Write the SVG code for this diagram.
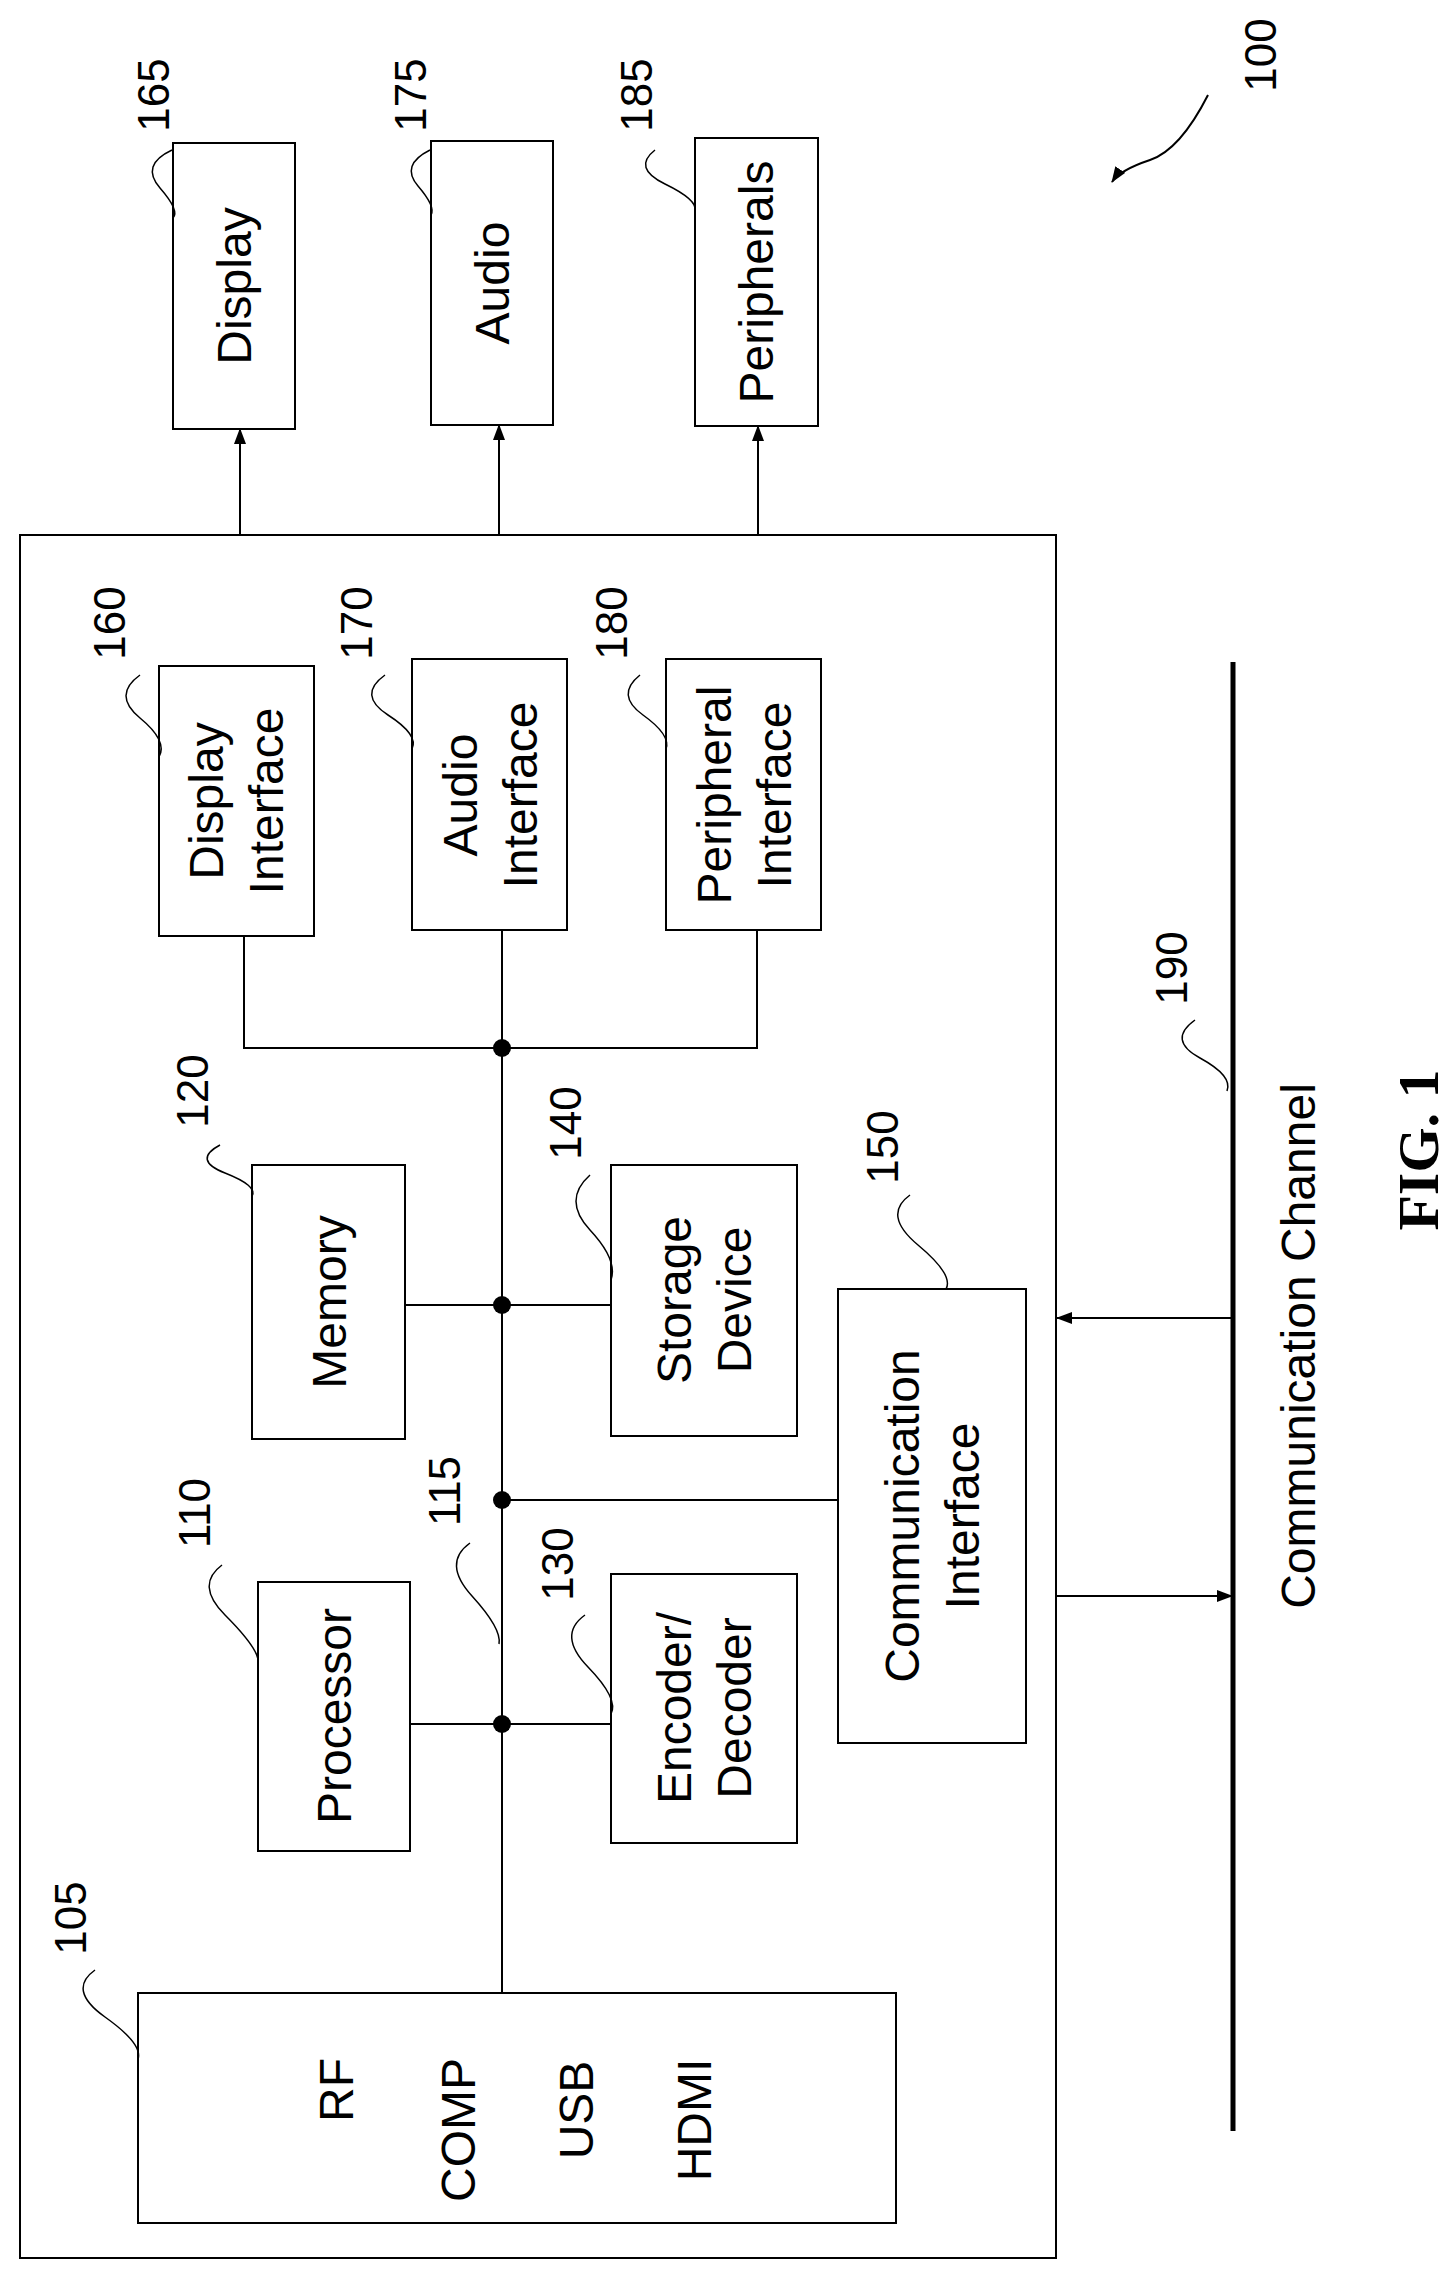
<svg xmlns="http://www.w3.org/2000/svg" width="1455" height="2272" viewBox="0 0 1455 2272">
<style>
.b{fill:none;stroke:#000;stroke-width:2}
.w{fill:#fff;stroke:#000;stroke-width:2}
.l{fill:none;stroke:#000;stroke-width:1.5}
text{font-family:"Liberation Sans",Arial,sans-serif;font-size:48px;text-anchor:middle;dominant-baseline:central}
.n{font-size:44px}
</style>
<defs><marker id="a" markerWidth="16" markerHeight="12" refX="15" refY="6" orient="auto" markerUnits="userSpaceOnUse"><path d="M0,0 L16,6 L0,12 z"/></marker></defs>
<g id="outer"><rect class="b" x="20" y="535" width="1036" height="1723"/></g>
<g id="n165"><rect class="w" x="173" y="143" width="122" height="286"/><text transform="rotate(-90 234 286)" x="234" y="286">Display</text></g>
<g id="n175"><rect class="w" x="431" y="141" width="122" height="284"/><text transform="rotate(-90 492 283)" x="492" y="283">Audio</text></g>
<g id="n185"><rect class="w" x="695" y="138" width="123" height="288"/><text transform="rotate(-90 756 282)" x="756" y="282">Peripherals</text></g>
<g id="n160"><rect class="w" x="159" y="666" width="155" height="270"/><text transform="rotate(-90 236 801)" x="236" y="801"><tspan x="236" dy="-0.63em">Display</tspan><tspan x="236" dy="1.26em">Interface</tspan></text></g>
<g id="n170"><rect class="w" x="412" y="659" width="155" height="271"/><text transform="rotate(-90 490 795)" x="490" y="795"><tspan x="490" dy="-0.63em">Audio</tspan><tspan x="490" dy="1.26em">Interface</tspan></text></g>
<g id="n180"><rect class="w" x="666" y="659" width="155" height="271"/><text transform="rotate(-90 744 795)" x="744" y="795"><tspan x="744" dy="-0.63em">Peripheral</tspan><tspan x="744" dy="1.26em">Interface</tspan></text></g>
<g id="n120"><rect class="w" x="252" y="1165" width="153" height="274"/><text transform="rotate(-90 329 1302)" x="329" y="1302">Memory</text></g>
<g id="n140"><rect class="w" x="611" y="1165" width="186" height="271"/><text transform="rotate(-90 704 1300)" x="704" y="1300"><tspan x="704" dy="-0.63em">Storage</tspan><tspan x="704" dy="1.26em">Device</tspan></text></g>
<g id="n150"><rect class="w" x="838" y="1289" width="188" height="454"/><text transform="rotate(-90 932 1516)" x="932" y="1516"><tspan x="932" dy="-0.63em">Communication</tspan><tspan x="932" dy="1.26em">Interface</tspan></text></g>
<g id="n110"><rect class="w" x="258" y="1582" width="152" height="269"/><text transform="rotate(-90 334 1716)" x="334" y="1716">Processor</text></g>
<g id="n130"><rect class="w" x="611" y="1574" width="186" height="269"/><text transform="rotate(-90 704 1708)" x="704" y="1708"><tspan x="704" dy="-0.63em">Encoder/</tspan><tspan x="704" dy="1.26em">Decoder</tspan></text></g>
<g id="n105"><rect class="w" x="138" y="1993" width="758" height="230"/>
<text transform="rotate(-90 336 2090)" x="336" y="2090">RF</text>
<text transform="rotate(-90 458 2130)" x="458" y="2130">COMP</text>
<text transform="rotate(-90 576 2110)" x="576" y="2110">USB</text>
<text transform="rotate(-90 694 2120)" x="694" y="2120">HDMI</text></g>
<g id="n190"><line x1="1233" y1="662" x2="1233" y2="2131" stroke="#000" stroke-width="5"/><text transform="rotate(-90 1298 1346)" x="1298" y="1346">Communication Channel</text></g>
<g id="connectors">
<line class="b" x1="240" y1="535" x2="240" y2="429" marker-end="url(#a)"/>
<line class="b" x1="499" y1="535" x2="499" y2="425" marker-end="url(#a)"/>
<line class="b" x1="758" y1="535" x2="758" y2="426" marker-end="url(#a)"/>
<polyline class="b" points="244,936 244,1048 757,1048 757,930"/>
<line class="b" x1="502" y1="930" x2="502" y2="1993"/>
<line class="b" x1="405" y1="1305" x2="611" y2="1305"/>
<line class="b" x1="502" y1="1500" x2="838" y2="1500"/>
<line class="b" x1="410" y1="1724" x2="611" y2="1724"/>
<circle cx="502" cy="1048" r="9"/><circle cx="502" cy="1305" r="9"/><circle cx="502" cy="1500" r="9"/><circle cx="502" cy="1724" r="9"/>
<line class="b" x1="1233" y1="1318" x2="1057" y2="1318" marker-end="url(#a)"/>
<line class="b" x1="1056" y1="1596" x2="1232" y2="1596" marker-end="url(#a)"/>
</g>
<g id="labels">
<text class="n" transform="rotate(-90 153 95)" x="153" y="95">165</text><path class="l" d="M172,150 Q140,165 160,188 T173,218"/>
<text class="n" transform="rotate(-90 410 95)" x="410" y="95">175</text><path class="l" d="M430,150 Q400,165 418,186 T431,215"/>
<text class="n" transform="rotate(-90 636 95)" x="636" y="95">185</text><path class="l" d="M655,150 Q632,168 665,184 T695,211"/>
<text class="n" transform="rotate(-90 109 623)" x="109" y="623">160</text><path class="l" d="M140,675 Q112,695 140,718 T159,757"/>
<text class="n" transform="rotate(-90 356 623)" x="356" y="623">170</text><path class="l" d="M385,675 Q357,695 388,715 T412,749"/>
<text class="n" transform="rotate(-90 611 623)" x="611" y="623">180</text><path class="l" d="M640,675 Q615,695 643,715 T666,749"/>
<text class="n" transform="rotate(-90 192 1091)" x="192" y="1091">120</text><path class="l" d="M220,1145 Q192,1160 225,1173 T252,1196"/>
<text class="n" transform="rotate(-90 565 1123)" x="565" y="1123">140</text><path class="l" d="M590,1175 Q562,1200 590,1230 T611,1280"/>
<text class="n" transform="rotate(-90 882 1147)" x="882" y="1147">150</text><path class="l" d="M910,1195 Q882,1215 918,1245 T946,1289"/>
<text class="n" transform="rotate(-90 194 1513)" x="194" y="1513">110</text><path class="l" d="M222,1565 Q195,1585 225,1615 T258,1659"/>
<text class="n" transform="rotate(-90 444 1491)" x="444" y="1491">115</text><path class="l" d="M470,1543 Q442,1563 472,1596 T499,1644"/>
<text class="n" transform="rotate(-90 557 1564)" x="557" y="1564">130</text><path class="l" d="M585,1615 Q557,1635 588,1667 T611,1714"/>
<text class="n" transform="rotate(-90 70 1918)" x="70" y="1918">105</text><path class="l" d="M95,1970 Q67,1990 105,2017 T138,2059"/>
<text class="n" transform="rotate(-90 1171 968)" x="1171" y="968">190</text><path class="l" d="M1195,1020 Q1167,1040 1200,1058 T1227,1091"/>
<text class="n" transform="rotate(-90 1260 55)" x="1260" y="55">100</text>
<path fill="none" stroke="#000" stroke-width="2" d="M1208,95 Q1180,150 1150,160 T1112,182" marker-end="url(#a)"/>
<text transform="rotate(-90 1418 1150)" x="1418" y="1150" style="font-family:'Liberation Serif',serif;font-weight:bold;font-size:58px">FIG. 1</text>
</g>
</svg>
